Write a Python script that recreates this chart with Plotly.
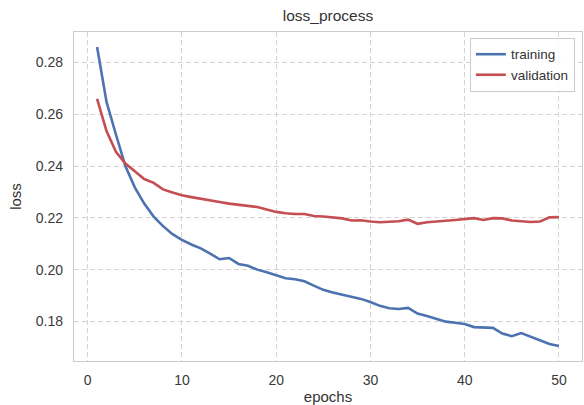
import plotly.graph_objects as go

epochs = list(range(1, 51))
training = [0.286, 0.2648, 0.2522, 0.2400, 0.2318, 0.2255, 0.2205, 0.2168, 0.2137, 0.2115,
            0.2097, 0.2082, 0.2062, 0.2040, 0.2045, 0.2022, 0.2015, 0.2000, 0.1990, 0.1978,
            0.1967, 0.1963, 0.1955, 0.1938, 0.1922, 0.1912, 0.1903, 0.1897, 0.1887, 0.1875,
            0.1860, 0.1851, 0.1848, 0.1852, 0.1830, 0.1821, 0.1810, 0.1799, 0.1795, 0.1790,
            0.1778, 0.1776, 0.1775, 0.1753, 0.1743, 0.1755, 0.1740, 0.1727, 0.1713, 0.1705]
validation = [0.2660, 0.2535, 0.2455, 0.2410, 0.2380, 0.2350, 0.2335, 0.2310, 0.2298, 0.2287,
              0.2280, 0.2273, 0.2268, 0.2261, 0.2255, 0.2251, 0.2248, 0.2242, 0.2232, 0.2223,
              0.2218, 0.2215, 0.2215, 0.2207, 0.2205, 0.2202, 0.2198, 0.2190, 0.2191, 0.2186,
              0.2183, 0.2185, 0.2187, 0.2193, 0.2177, 0.2183, 0.2185, 0.2189, 0.2192, 0.2195,
              0.2199, 0.2192, 0.2199, 0.2198, 0.2190, 0.2187, 0.2184, 0.2186, 0.2202, 0.2203]
x_ticks = [0, 10, 20, 30, 40, 50]
y_ticks = [0.18, 0.20, 0.22, 0.24, 0.26, 0.28]

fig = go.Figure()
fig.add_trace(go.Scatter(x=epochs, y=training, mode="lines", name="training",
                         line=dict(color="#4C72B0", width=2.6)))
fig.add_trace(go.Scatter(x=epochs, y=validation, mode="lines", name="validation",
                         line=dict(color="#C44E52", width=2.6)))

axis_common = dict(showline=True, mirror=True, linecolor="#cccccc", linewidth=1.3,
                   showgrid=True, gridcolor="#d4d4d4", griddash="5px,3px", gridwidth=1,
                   zeroline=False, ticks="", tickfont=dict(size=14, color="#3a3a3a"))

fig.update_layout(
    width=584, height=405,
    margin=dict(l=74, r=2, t=32, b=44),
    paper_bgcolor="white", plot_bgcolor="white",
    font=dict(family="Liberation Sans, Arial, sans-serif", color="#333333"),
    title=dict(text="loss_process", x=0.5616, xanchor="center", y=0.9605, yanchor="middle",
               font=dict(size=15.5, color="#333333")),
    xaxis=dict(range=[-1.45, 52.45], tickvals=x_ticks, ticktext=[str(v) for v in x_ticks],
               ticklabelstandoff=6,
               title=dict(text="epochs", font=dict(size=15, color="#333333"), standoff=5),
               **axis_common),
    yaxis=dict(range=[0.1647, 0.2918], tickvals=y_ticks, ticktext=[f"{v:.2f}" for v in y_ticks],
               ticklabelstandoff=7,
               title=dict(text="loss", font=dict(size=15, color="#333333"), standoff=10),
               **axis_common),
    legend=dict(x=0.986, y=0.982, xanchor="right", yanchor="top",
                bgcolor="rgba(255,255,255,0.85)", bordercolor="#cccccc", borderwidth=1,
                font=dict(size=13.5, color="#333333"), tracegroupgap=0),
    showlegend=True,
)

fig.write_html("out.html", config={"displayModeBar": False},
               post_script="document.body.style.margin='0';")
